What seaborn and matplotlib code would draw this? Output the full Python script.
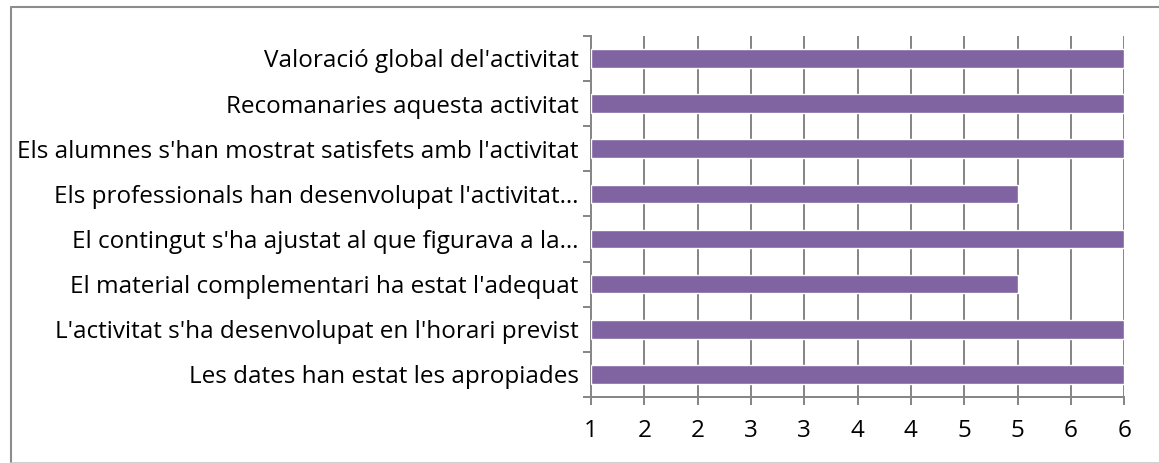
import numpy as np
import pandas as pd
import matplotlib
matplotlib.use("Agg")
import matplotlib.pyplot as plt
import seaborn as sns
from matplotlib.ticker import FixedLocator, FuncFormatter
from matplotlib.lines import Line2D

# data (top to bottom as in the chart)
preguntes = ["Valoració global del'activitat",
             "Recomanaries aquesta activitat",
             "Els alumnes s'han mostrat satisfets amb l'activitat",
             "Els professionals han desenvolupat l'activitat…",
             "El contingut s'ha ajustat al que figurava a la…",
             "El material complementari ha estat l'adequat",
             "L'activitat s'ha desenvolupat en l'horari previst",
             "Les dates han estat les apropiades"]
valors = [6, 6, 6, 5, 6, 5, 6, 6]
x_ticks = [1, 1.5, 2, 2.5, 3, 3.5, 4, 4.5, 5, 5.5, 6]

df = pd.DataFrame({"pregunta": preguntes, "valor": valors})

sns.set_style("white")
plt.rcParams['font.family'] = ['Open Sans', 'DejaVu Sans']

fig = plt.figure(figsize=(11.59, 4.63), dpi=100)
ax = fig.add_axes([0.510, 0.1426, 0.4599, 0.780])

grey = "#878787"
ax.set_xlim(1, 6)
ax.xaxis.set_major_locator(FixedLocator(x_ticks))
ax.xaxis.set_major_formatter(FuncFormatter(lambda v, p: "%d" % int(v + 0.5)))
ax.grid(axis="x", color=grey, linewidth=1.44)
ax.set_axisbelow(True)

sns.barplot(data=df, x="valor", y="pregunta", color="#8064A2", width=0.41,
            saturation=1, orient="h", ax=ax, zorder=3)
# bars start at the axis minimum (1), like Excel
for bar, v in zip(ax.patches, valors):
    bar.set_x(1)
    bar.set_width(v - 1)

ax.set_ylim(len(preguntes) - 0.5, -0.5)
ax.set_xlabel("")
ax.set_ylabel("")

for s in ["top", "right"]:
    ax.spines[s].set_visible(False)
for s in ["left", "bottom"]:
    ax.spines[s].set_color(grey)
    ax.spines[s].set_linewidth(1.44)

ax.yaxis.set_minor_locator(FixedLocator(np.arange(-0.5, len(preguntes), 1)))
ax.tick_params(axis="y", which="major", length=0, pad=9, labelsize=17.5, labelcolor="black")
ax.tick_params(axis="y", which="minor", length=5.5, width=1.44, color=grey, left=True)
ax.tick_params(axis="x", which="major", length=5.5, width=1.44, color=grey, bottom=True,
               pad=10, labelsize=17.5, labelcolor="black")

# outer chart border, cut off at the right and bottom like the screenshot
fig.lines.append(Line2D([1.0, 0.0095, 0.0095], [0.985, 0.985, 0.0], transform=fig.transFigure,
                        color="#8c8c8c", linewidth=1.5))
fig.lines.append(Line2D([0.0095, 1.0], [0.001, 0.001], transform=fig.transFigure,
                        color="#c8c8c8", linewidth=1.2))

fig.savefig("out.png", dpi=100)
